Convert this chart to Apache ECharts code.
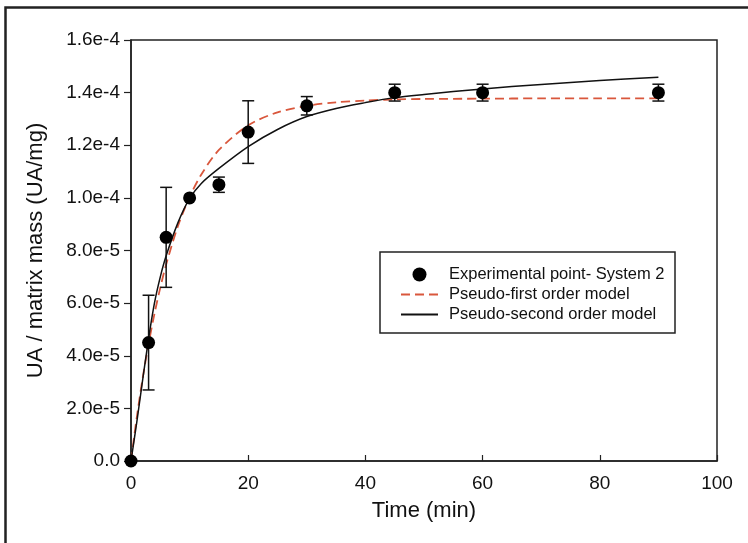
<!DOCTYPE html>
<html>
<head>
<meta charset="utf-8">
<script src="https://cdn.jsdelivr.net/npm/echarts@6/dist/echarts.min.js"></script>
<style>
html,body{margin:0;padding:0;background:#fff;}
#chart{width:748px;height:543px;}
</style>
</head>
<body>
<div id="chart"></div>
<script>
// ---- data ----
var expTime = [0, 3, 6, 10, 15, 20, 30, 45, 60, 90];
var expValue = [0, 4.5e-5, 8.5e-5, 1.0e-4, 1.05e-4, 1.25e-4, 1.35e-4, 1.40e-4, 1.40e-4, 1.40e-4];
var expError = [0, 1.8e-5, 1.9e-5, 0, 0.29e-5, 1.19e-5, 0.35e-5, 0.32e-5, 0.32e-5, 0.32e-5];

var modelTime = [0, 1, 2, 3, 4, 5, 6, 8, 10, 12, 15, 20, 25, 30, 35, 40, 45, 50, 60, 70, 80, 90];
var firstOrder = [0, 1.68e-5, 3.16e-5, 4.45e-5, 5.59e-5, 6.59e-5, 7.47e-5, 8.92e-5, 10.03e-5, 10.89e-5, 11.82e-5, 12.76e-5, 13.25e-5, 13.50e-5, 13.63e-5, 13.70e-5, 13.74e-5, 13.76e-5, 13.77e-5, 13.78e-5, 13.78e-5, 13.78e-5];
var secondOrder = [0, 1.5e-5, 3.1e-5, 4.65e-5, 6.0e-5, 7.0e-5, 7.8e-5, 9.05e-5, 9.98e-5, 10.55e-5, 11.12e-5, 11.95e-5, 12.6e-5, 13.09e-5, 13.4e-5, 13.62e-5, 13.81e-5, 13.93e-5, 14.14e-5, 14.31e-5, 14.46e-5, 14.58e-5];

var seriesNames = ['Experimental point- System 2', 'Pseudo-first order model', 'Pseudo-second order model'];
var xTitle = 'Time (min)';
var yTitle = 'UA / matrix mass (UA/mg)';

function zip(a, b) { return a.map(function (v, i) { return [v, b[i]]; }); }

var FONT = '"Liberation Sans", Arial, sans-serif';
var chart = echarts.init(document.getElementById('chart'), null, {renderer: 'canvas'});

var option = {
  backgroundColor: '#fff',
  animation: false,
  grid: {left: 131, right: 31, top: 40, bottom: 82, show: true, borderColor: '#222', borderWidth: 1.5, backgroundColor: 'transparent'},
  xAxis: {
    type: 'value', min: 0, max: 100, interval: 20,
    name: xTitle, nameLocation: 'middle', nameGap: 39,
    nameTextStyle: {fontFamily: FONT, fontSize: 22, color: '#111'},
    axisLine: {lineStyle: {color: '#222', width: 1.5}},
    axisTick: {inside: true, length: 6, lineStyle: {color: '#222', width: 1.2}},
    axisLabel: {fontFamily: FONT, fontSize: 19, color: '#111', margin: 13},
    splitLine: {show: false}
  },
  yAxis: {
    type: 'value', min: 0, max: 1.6e-4, interval: 2e-5,
    name: yTitle, nameLocation: 'middle', nameGap: 84, nameRotate: 90,
    nameTextStyle: {fontFamily: FONT, fontSize: 22, color: '#111'},
    axisLine: {lineStyle: {color: '#222', width: 1.5}},
    axisTick: {inside: false, length: 7, lineStyle: {color: '#222', width: 1.2}},
    axisLabel: {fontFamily: FONT, fontSize: 19, color: '#111', margin: 11,
      formatter: function (v) { return v === 0 ? '0.0' : v.toExponential(1); }},
    splitLine: {show: false}
  },
  legend: {
    orient: 'vertical', left: 395, top: 261,
    itemWidth: 37, itemHeight: 14, itemGap: 3,
    textStyle: {fontFamily: FONT, fontSize: 16.5, color: '#111', lineHeight: 15, padding: [0, 0, 0, 6]},
    data: [
      {name: seriesNames[0], icon: 'circle'},
      {name: seriesNames[1], itemStyle: {opacity: 0}},
      {name: seriesNames[2], itemStyle: {opacity: 0}}
    ]
  },
  graphic: [
    {type: 'rect', shape: {x: 380, y: 252, width: 295, height: 81}, style: {fill: 'none', stroke: '#222', lineWidth: 1.5}, silent: true, z: 10},
    {type: 'polyline', shape: {points: [[5.5, 560], [5.5, 7.5], [760, 7.5]]}, style: {fill: 'none', stroke: '#222', lineWidth: 2.5}, silent: true}
  ],
  series: [
    {
      name: seriesNames[1], type: 'line', data: zip(modelTime, firstOrder),
      smooth: 0.3, symbol: 'none', z: 3,
      lineStyle: {color: '#d9573c', width: 1.8, type: [9, 5]},
      itemStyle: {color: '#d9573c'}
    },
    {
      name: seriesNames[2], type: 'line', data: zip(modelTime, secondOrder),
      smooth: 0.3, symbol: 'none', z: 3,
      lineStyle: {color: '#111', width: 1.5},
      itemStyle: {color: '#111'}
    },
    {
      name: 'errorbars', type: 'custom', z: 4,
      data: expTime.map(function (t, i) { return [t, expValue[i], expError[i]]; }),
      renderItem: function (params, api) {
        var t = api.value(0), v = api.value(1), e = api.value(2);
        if (!e) return null;
        var top = api.coord([t, v + e]);
        var bot = api.coord([t, v - e]);
        var hw = 6;
        var st = {stroke: '#111', lineWidth: 1.5, fill: 'none'};
        return {type: 'group', children: [
          {type: 'line', shape: {x1: top[0], y1: top[1], x2: bot[0], y2: bot[1]}, style: st},
          {type: 'line', shape: {x1: top[0] - hw, y1: top[1], x2: top[0] + hw, y2: top[1]}, style: st},
          {type: 'line', shape: {x1: bot[0] - hw, y1: bot[1], x2: bot[0] + hw, y2: bot[1]}, style: st}
        ]};
      }
    },
    {
      name: seriesNames[0], type: 'scatter', data: zip(expTime, expValue),
      symbol: 'circle', symbolSize: 13, z: 5,
      itemStyle: {color: '#000', opacity: 1}
    }
  ]
};
chart.setOption(option);
</script>
</body>
</html>
